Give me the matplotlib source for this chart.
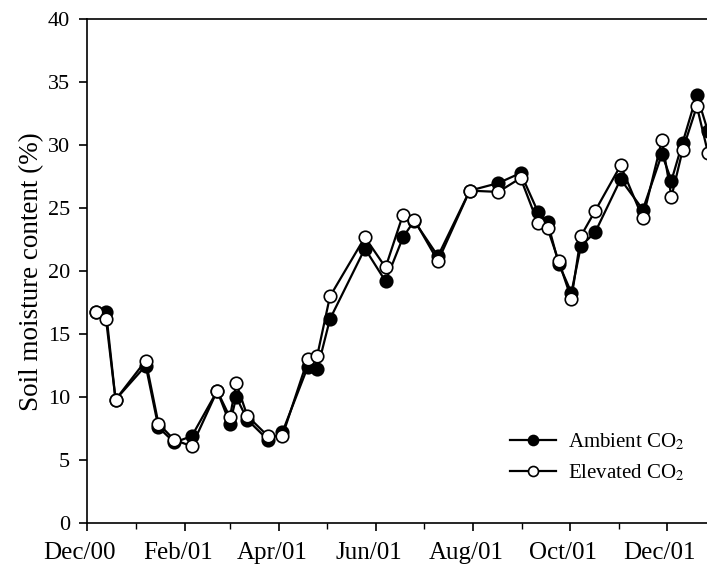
import numpy as np
import pandas as pd
import matplotlib
matplotlib.use("Agg")
import matplotlib.pyplot as plt
import matplotlib.dates as mdates
from matplotlib.transforms import ScaledTranslation

plt.rcParams['font.family'] = ['Liberation Serif', 'DejaVu Serif']
plt.rcParams['mathtext.fontset'] = 'stix'

# sampling dates
dates = pd.to_datetime([
    "2000-12-07", "2000-12-13", "2000-12-19", "2001-01-07", "2001-01-15",
    "2001-01-25", "2001-02-05", "2001-02-21", "2001-03-01", "2001-03-05",
    "2001-03-12", "2001-03-25", "2001-04-03", "2001-04-19", "2001-04-25",
    "2001-05-03", "2001-05-25", "2001-06-07", "2001-06-18", "2001-06-25",
    "2001-07-10", "2001-07-30", "2001-08-17", "2001-08-31", "2001-09-11",
    "2001-09-17", "2001-09-24", "2001-10-02", "2001-10-08", "2001-10-17",
    "2001-11-02", "2001-11-16", "2001-11-28", "2001-12-04", "2001-12-11",
    "2001-12-20", "2001-12-27",
])

ambient = [16.8, 16.8, 9.8, 12.5, 7.6, 6.4, 6.9, 10.5, 7.9, 10.0,
           8.2, 6.6, 7.2, 12.4, 12.2, 16.2, 21.8, 19.2, 22.7, 24.0,
           21.2, 26.4, 27.0, 27.8, 24.7, 23.9, 20.6, 18.3, 22.0, 23.1,
           27.3, 24.9, 29.3, 27.2, 30.2, 34.0, 31.1]
elevated = [16.8, 16.2, 9.8, 12.9, 7.9, 6.6, 6.1, 10.5, 8.4, 11.1,
            8.5, 6.9, 6.9, 13.0, 13.3, 18.0, 22.7, 20.3, 24.5, 24.1,
            20.8, 26.4, 26.3, 27.4, 23.8, 23.4, 20.8, 17.8, 22.8, 24.8,
            28.4, 24.2, 30.4, 25.9, 29.6, 33.1, 29.4]

fig = plt.figure(figsize=(7.07, 5.71), dpi=100)
ax = fig.add_axes([0.123, 0.084, 0.957, 0.882])

ax.plot(dates, ambient, color='black', lw=1.6, marker='o', ms=9,
        mfc='black', mec='black', mew=1.2, label='Ambient CO$_2$', zorder=3)
ax.plot(dates, elevated, color='black', lw=1.6, marker='o', ms=9,
        mfc='white', mec='black', mew=1.2, label='Elevated CO$_2$', zorder=4)

ax.set_xlim(pd.Timestamp("2000-12-01"), pd.Timestamp("2002-01-31"))
ax.set_ylim(0, 40)
ax.set_yticks(np.arange(0, 41, 5))

ax.xaxis.set_major_locator(mdates.MonthLocator(bymonth=[2, 4, 6, 8, 10, 12]))
ax.xaxis.set_major_formatter(mdates.DateFormatter('%b/%y'))
ax.xaxis.set_minor_locator(mdates.MonthLocator())

ax.tick_params(axis='both', which='major', direction='out', length=6,
               width=1.2, labelsize=16, pad=6)
ax.tick_params(axis='x', which='major', labelsize=18, pad=8)
ax.tick_params(axis='x', which='minor', direction='out', length=4, width=1.0)
offset = ScaledTranslation(-7 / 100, 0, fig.dpi_scale_trans)
for lab in ax.get_xticklabels():
    lab.set_transform(lab.get_transform() + offset)

for s in ax.spines.values():
    s.set_linewidth(1.2)

ax.set_ylabel('Soil moisture content (%)', fontsize=19.5, labelpad=3)

ax.legend(loc='upper left', bbox_to_anchor=(0.721, 0.245),
          bbox_transform=fig.transFigure, frameon=False, fontsize=15,
          handlelength=2.2, handletextpad=0.6, labelspacing=0.5,
          borderpad=0, borderaxespad=0, markerscale=0.8)

fig.savefig('out.png', dpi=100)
